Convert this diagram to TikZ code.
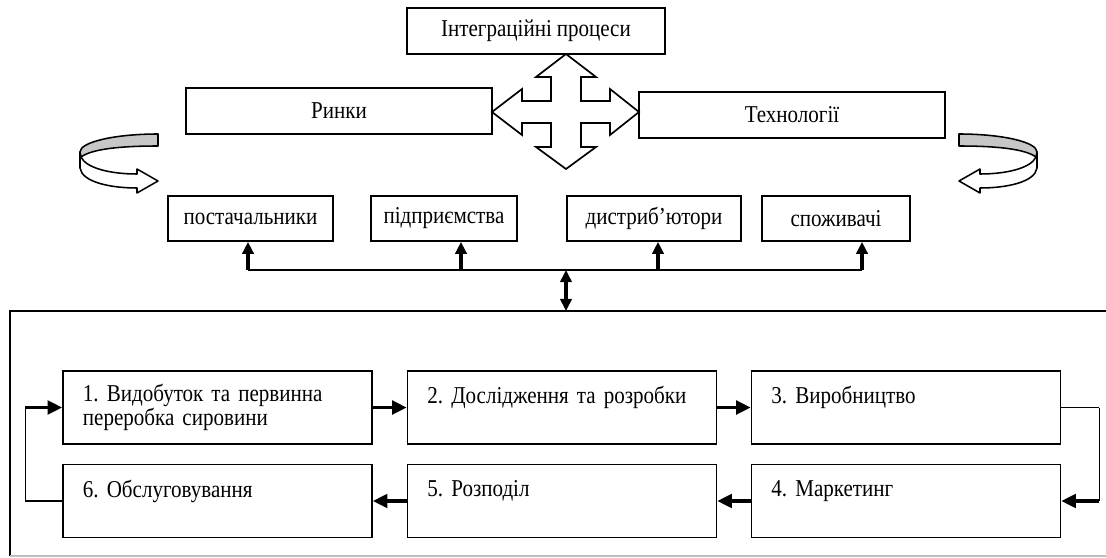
\documentclass[tikz,border=0pt]{standalone}
\usepackage{fontspec}
\setmainfont[FakeStretch=0.87]{Liberation Serif}
\usetikzlibrary{arrows.meta,calc}
\frenchspacing
\newcommand\chainfont{\fontsize{17.2}{17.5}\selectfont\spaceskip=0.2em plus 0.05em minus 0.03em\relax}

\begin{document}
\begin{tikzpicture}[x=0.025cm,y=-0.025cm,
    >={Triangle[length=3.6mm,width=3.4mm]},
    box/.style={draw,line width=1.2pt,inner sep=0pt,font=\chainfont},
    wide/.style={box,minimum width=76.5mm,minimum height=11.5mm},
    actor/.style={box,minimum height=11.25mm},
    stage/.style={box,minimum width=77.25mm,minimum height=18.25mm,text width=67.25mm,inner xsep=5mm,align=left},
    flow/.style={line width=2.2pt},
    wire/.style={line width=0.8pt},
    ribbon/.style={line width=1.1pt,line join=round}]
\useasboundingbox (0,0) rectangle (1106,558);

% upper level
\node[box,minimum width=64.5mm,minimum height=11.5mm] (integ) at (536,31) {Інтеграційні процеси};
\node[wide] (markets) at (339,111) {Ринки};
\node[wide] (tech) at (792,115) {Технології};

% cross arrow
\draw[line width=1.2pt,line join=miter,fill=white,shift={(566,112)}]
    (0,-58) -- (30,-35) -- (15,-35) -- (15,-11) -- (44,-11) -- (44,-23) -- (73,0)
    -- (44,23) -- (44,11) -- (15,11) -- (15,35) -- (30,35) -- (0,57)
    -- (-30,35) -- (-15,35) -- (-15,11) -- (-44,11) -- (-44,23) -- (-74,0)
    -- (-44,-23) -- (-44,-11) -- (-15,-11) -- (-15,-35) -- (-30,-35) -- cycle;

% turning ribbons
\foreach \sh/\sc in {0/1,1117/-1}{
\begin{scope}[shift={(\sh,0)},xscale=\sc]
  \draw[ribbon,fill=white] (80,152) -- (80,168) .. controls (82,182) and (110,188) .. (137,188)
      -- (137,193) -- (158,181) -- (137,169) -- (137,174)
      .. controls (110,174) and (86,168) .. (81,157) -- cycle;
  \draw[ribbon,fill=black!22] (158,134) .. controls (115,134) and (80,142) .. (80,152)
      -- (81,157) .. controls (92,149) and (120,146) .. (158,146) -- cycle;
\end{scope}
}

% participants
\node[actor,minimum width=41.25mm] (supp) at (250.5,218.5) {постачальники};
\node[actor,minimum width=36.5mm] (firms) at (444,218.5) {підприємства};
\node[actor,minimum width=43.5mm] (distr) at (654,218.5) {дистриб’ютори};
\node[actor,minimum width=37mm] (cons) at (836,218.5) {споживачі};

\coordinate (s1) at (248,270);
\coordinate (s2) at (461,270);
\coordinate (s3) at (658,270);
\coordinate (s4) at (862,270);
\coordinate (hub) at (566,270);
\coordinate (ftop) at (566,311);
\draw[line width=1.2pt] (s1) -- (s4);
\foreach \s/\b in {s1/supp,s2/firms,s3/distr,s4/cons}
  \draw[flow,-{Triangle[length=3mm,width=2.8mm]}] (\s) -- (\s |- \b.south);
\draw[flow,{Triangle[length=3mm,width=2.8mm]}-{Triangle[length=3mm,width=2.8mm]}] (hub) -- (ftop);

% frame
\draw[line width=1.2pt] (1106,311) -- (10,311) -- (10,556);
\draw[line width=0.8pt,black!25] (10,556) -- (1106,556);

% value chain
\node[stage] (b1) at (217.5,407.5) {1. Видобуток та первинна\\переробка сировини};
\node[stage] (b2) at (562,407.5) {2. Дослідження та розробки\\\mbox{}};
\node[stage] (b3) at (906,407.5) {3. Виробництво\\\mbox{}};
\node[stage] (b4) at (906,501) {4. Маркетинг\\\mbox{}};
\node[stage] (b5) at (562,501) {5. Розподіл\\\mbox{}};
\node[stage] (b6) at (217.5,501) {6. Обслуговування\\\mbox{}};

\draw[flow,->] (b1.east) -- (b2.west);
\draw[flow,->] (b2.east) -- (b3.west);
\coordinate (r3) at ($(b3.east)+(38,0)$);
\draw[wire] (b3.east) -| (r3);
\draw[wire] (r3) -- (r3 |- b4.east);
\draw[flow,->] (r3 |- b4.east) -- (b4.east);
\draw[flow,->] (b4.west) -- (b5.east);
\draw[flow,->] (b5.west) -- (b6.east);
\coordinate (l6) at ($(b6.west)+(-37,0)$);
\draw[wire] (b6.west) -- (l6) -- (l6 |- b1.west);
\draw[flow,->] (l6 |- b1.west) -- (b1.west);
\end{tikzpicture}
\end{document}
